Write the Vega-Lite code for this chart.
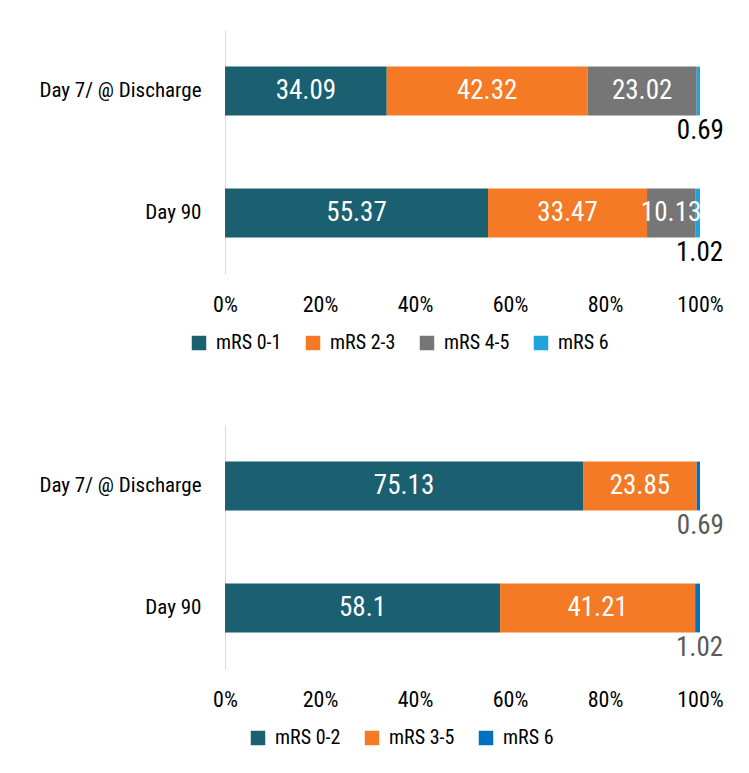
{
  "$schema": "https://vega.github.io/schema/vega-lite/v6.json",
  "background": "white",
  "padding": {"left": 38, "top": 30, "right": 20, "bottom": 10},
  "config": {
    "font": "Roboto Condensed, Liberation Sans Narrow, DejaVu Sans Condensed, Liberation Sans",
    "view": {"stroke": null},
    "axis": {"labelFont": "Roboto Condensed, Liberation Sans Narrow, DejaVu Sans Condensed, Liberation Sans", "labelColor": "#000000"},
    "legend": {"labelFont": "Roboto Condensed, Liberation Sans Narrow, DejaVu Sans Condensed, Liberation Sans", "labelColor": "#000000"}
  },
  "spacing": 72,
  "resolve": {"scale": {"color": "independent"}, "legend": {"color": "independent"}},
  "vconcat": [
    {
      "width": 475,
      "height": 244,
      "data": {"values": [
        {"period": "Day 7/ @ Discharge", "group": "mRS 0-1", "value": 34.09},
        {"period": "Day 7/ @ Discharge", "group": "mRS 2-3", "value": 42.32},
        {"period": "Day 7/ @ Discharge", "group": "mRS 4-5", "value": 23.02},
        {"period": "Day 7/ @ Discharge", "group": "mRS 6", "value": 0.69},
        {"period": "Day 90", "group": "mRS 0-1", "value": 55.37},
        {"period": "Day 90", "group": "mRS 2-3", "value": 33.47},
        {"period": "Day 90", "group": "mRS 4-5", "value": 10.13},
        {"period": "Day 90", "group": "mRS 6", "value": 1.02}
      ]},
      "encoding": {
        "y": {"field": "period", "type": "nominal", "sort": ["Day 7/ @ Discharge", "Day 90"], "title": null,
              "scale": {"paddingInner": 0.6, "paddingOuter": 0.3},
              "axis": {"ticks": false, "domainColor": "#d9d9d9", "labelFontSize": 21, "labelPadding": 24, "labelLimit": 400}},
        "x": {"field": "value", "type": "quantitative", "stack": "normalize", "title": null,
              "scale": {"domain": [0, 1]},
              "axis": {"format": ".0%", "values": [0, 0.2, 0.4, 0.6, 0.8, 1], "grid": false, "domain": false, "ticks": false, "labelFontSize": 22, "labelPadding": 20, "labelFlush": false}},
        "order": {"field": "group", "type": "nominal", "sort": "ascending"}
      },
      "layer": [
        {"mark": {"type": "bar"},
         "encoding": {"color": {"field": "group", "type": "nominal",
                  "scale": {"domain": ["mRS 0-1", "mRS 2-3", "mRS 4-5", "mRS 6"], "range": ["#1a6071", "#f47a25", "#767676", "#1ea4dc"]},
                  "legend": {"orient": "none", "legendX": -36, "legendY": 303, "direction": "horizontal", "title": null, "symbolType": "square", "symbolSize": 210, "symbolStrokeWidth": 0, "labelFontSize": 20, "labelOffset": 7, "columnPadding": 21}}}},
        {"mark": {"type": "text", "color": "white", "fontSize": 27},
         "encoding": {"x": {"field": "value", "type": "quantitative", "stack": "normalize", "bandPosition": 0.5},
                      "text": {"condition": {"test": "datum.value > 5", "field": "value", "type": "quantitative", "format": ".2f"}, "value": ""},
                      "detail": {"field": "group"}}},
        {"mark": {"type": "text", "color": "black", "fontSize": 27, "dy": 40, "dx": 2},
         "encoding": {"x": {"field": "value", "type": "quantitative", "stack": "normalize", "bandPosition": 0.5},
                      "text": {"condition": {"test": "datum.value <= 5", "field": "value", "type": "quantitative", "format": ".2f"}, "value": ""},
                      "detail": {"field": "group"}}}
      ]
    },
    {
      "width": 475,
      "height": 244,
      "data": {"values": [
        {"period": "Day 7/ @ Discharge", "group": "mRS 0-2", "value": 75.13},
        {"period": "Day 7/ @ Discharge", "group": "mRS 3-5", "value": 23.85},
        {"period": "Day 7/ @ Discharge", "group": "mRS 6", "value": 0.69},
        {"period": "Day 90", "group": "mRS 0-2", "value": 58.1},
        {"period": "Day 90", "group": "mRS 3-5", "value": 41.21},
        {"period": "Day 90", "group": "mRS 6", "value": 1.02}
      ]},
      "encoding": {
        "y": {"field": "period", "type": "nominal", "sort": ["Day 7/ @ Discharge", "Day 90"], "title": null,
              "scale": {"paddingInner": 0.6, "paddingOuter": 0.3},
              "axis": {"ticks": false, "domainColor": "#d9d9d9", "labelFontSize": 21, "labelPadding": 24, "labelLimit": 400}},
        "x": {"field": "value", "type": "quantitative", "stack": "normalize", "title": null,
              "scale": {"domain": [0, 1]},
              "axis": {"format": ".0%", "values": [0, 0.2, 0.4, 0.6, 0.8, 1], "grid": false, "domain": false, "ticks": false, "labelFontSize": 22, "labelPadding": 20, "labelFlush": false}},
        "order": {"field": "group", "type": "nominal", "sort": "ascending"}
      },
      "layer": [
        {"mark": {"type": "bar"},
         "encoding": {"color": {"field": "group", "type": "nominal",
                  "scale": {"domain": ["mRS 0-2", "mRS 3-5", "mRS 6"], "range": ["#1a6071", "#f47a25", "#0070c0"]},
                  "legend": {"orient": "none", "legendX": 23, "legendY": 303, "direction": "horizontal", "title": null, "symbolType": "square", "symbolSize": 210, "symbolStrokeWidth": 0, "labelFontSize": 20, "labelOffset": 7, "columnPadding": 21}}}},
        {"mark": {"type": "text", "color": "white", "fontSize": 27},
         "encoding": {"x": {"field": "value", "type": "quantitative", "stack": "normalize", "bandPosition": 0.5},
                      "text": {"condition": {"test": "datum.value > 5", "field": "value", "type": "quantitative"}, "value": ""},
                      "detail": {"field": "group"}}},
        {"mark": {"type": "text", "color": "#595959", "fontSize": 27, "dy": 40, "dx": 2},
         "encoding": {"x": {"field": "value", "type": "quantitative", "stack": "normalize", "bandPosition": 0.5},
                      "text": {"condition": {"test": "datum.value <= 5", "field": "value", "type": "quantitative"}, "value": ""},
                      "detail": {"field": "group"}}}
      ]
    }
  ]
}
